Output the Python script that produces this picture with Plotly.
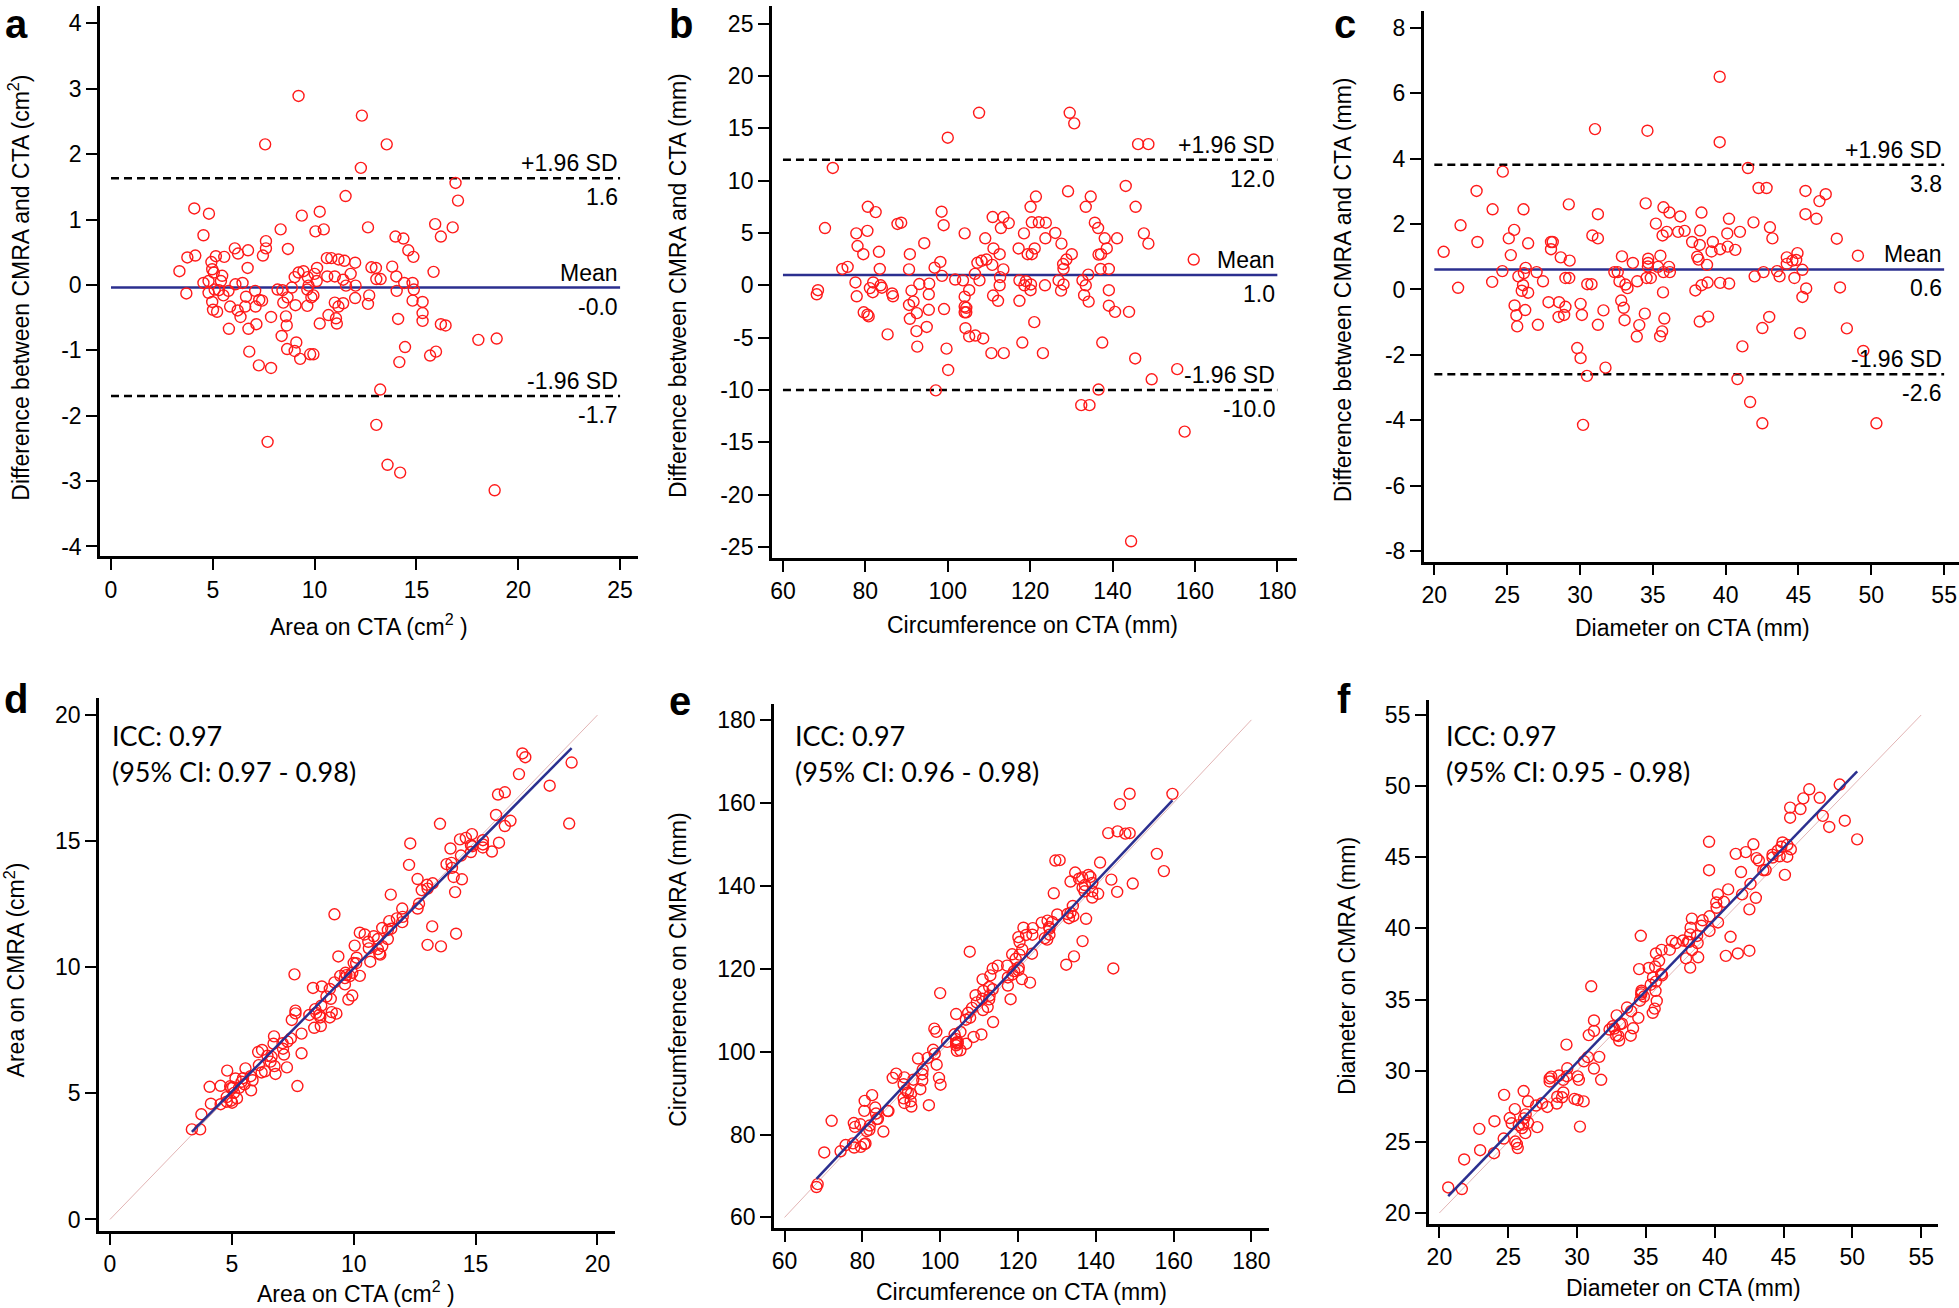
import numpy as np
import plotly.graph_objects as go

W, H = 1959, 1308

# ---------------- data ----------------
# Panel a / d : area (cm^2)
a_cta = [9.21,12.32,7.57,13.54,12.27,16.92,17.04,11.52,4.09,4.81,9.37,10.25,10.04,10.45,8.33,4.54,7.61,7.61,7.46,8.69,
         12.62,15.92,16.78,16.20,13.97,14.36,14.60,14.85,15.84,13.81,14.01,14.40,14.81,14.87,14.03,14.81,15.30,15.30,15.30,16.20,
         16.43,14.10,14.44,15.96,15.67,14.16,18.04,18.94,13.22,13.03,13.58,14.20,18.84,7.69,7.86,7.26,6.79,9.29,9.02,9.10,
         9.78,9.94,8.65,8.38,8.63,8.59,7.86,6.75,7.14,5.79,6.36,6.22,5.85,6.59,7.10,6.63,7.08,7.28,7.42,5.01,
         5.21,4.97,4.79,3.70,3.36,3.75,4.14,4.93,5.15,5.56,6.08,6.24,6.73,6.71,4.97,5.05,5.46,4.54,4.79,5.40,
         5.09,5.30,5.52,5.77,6.11,6.46,8.18,8.42,8.46,8.67,9.06,8.88,9.02,9.21,9.45,9.66,9.70,9.64,9.64,9.84,
         9.94,10.10,10.12,10.00,10.62,10.60,10.82,11.17,11.46,11.99,10.99,11.40,11.77,11.54,12.01,11.99,11.40,10.99,11.17,10.68,
         11.05,11.09,10.25,12.79,13.01,13.03,13.24,12.68,12.62]
a_diff = [2.89,2.59,2.15,2.15,1.79,1.56,1.29,1.36,1.17,1.09,1.06,1.12,0.82,0.85,0.85,0.76,0.67,0.56,0.45,0.55,
          0.88,0.93,0.88,0.74,0.74,0.71,0.53,0.43,0.20,0.28,0.13,0.03,0.03,-0.07,-0.09,-0.24,-0.26,-0.43,-0.55,-0.60,
          -0.62,-0.52,-0.95,-1.02,-1.08,-1.18,-0.84,-0.82,-1.60,-2.14,-2.75,-2.87,-3.14,-2.40,-1.27,-1.23,-1.02,-1.13,-1.01,-0.88,
          -1.06,-1.06,-0.98,-0.78,-0.62,-0.48,-0.49,-0.67,-0.60,-0.67,-0.49,-0.39,-0.33,-0.33,-0.33,-0.18,-0.09,-0.23,-0.24,-0.38,
          -0.41,-0.26,-0.12,-0.13,0.21,0.42,0.45,0.35,0.44,0.43,0.56,0.48,0.53,0.26,0.24,0.19,0.14,0.03,0.06,0.06,
          -0.07,-0.08,-0.16,-0.09,0.01,0.03,-0.07,-0.08,-0.27,-0.19,-0.31,-0.04,0.12,0.19,0.21,0.12,-0.01,-0.07,-0.32,-0.19,
          -0.16,0.06,0.26,0.17,0.13,0.41,0.41,0.39,0.37,0.34,0.13,0.08,0.17,-0.01,-0.01,-0.20,-0.28,-0.27,-0.33,-0.46,
          -0.51,-0.59,-0.59,0.27,0.26,0.09,0.09,-0.16,-0.29]

# Panel b / e : circumference (mm)
b_cta = [107.6,129.6,130.7,100.0,146.2,148.7,72.1,143.2,129.2,134.7,121.4,145.6,133.5,120.1,80.6,82.5,98.5,110.9,113.5,112.9,
         114.8,99.0,87.8,88.7,70.2,77.8,80.5,104.1,109.1,120.4,122.1,123.8,126.1,123.7,127.6,135.7,136.5,138.1,141.1,147.6,
         148.7,138.6,136.6,137.2,130.1,128.8,128.0,128.1,134.1,137.1,139.1,159.7,121.1,120.4,119.4,117.2,118.5,111.1,112.6,109.4,
         108.2,107.2,110.8,113.5,94.3,83.3,79.5,78.1,98.2,96.8,90.8,90.6,83.5,74.4,75.7,77.6,81.9,81.1,83.7,84.0,
         81.8,68.5,68.2,86.5,86.7,77.9,93.1,95.5,91.2,95.4,98.6,101.8,103.7,106.6,107.7,105.2,104.1,112.6,112.7,117.4,
         119.0,118.6,120.2,120.1,123.6,126.9,128.1,127.5,132.7,133.5,133.1,134.2,139.1,139.1,140.6,144.0,90.6,91.7,90.8,92.5,
         79.6,80.8,80.5,95.4,99.1,104.1,104.5,104.1,104.5,111.0,112.2,117.4,121.0,94.9,92.4,92.6,104.3,105.2,106.7,108.6,
         85.4,118.1,137.5,99.7,110.6,113.6,123.1,100.1,145.5,149.5,155.7,97.1,136.6,132.4,134.4,157.5,144.5]
b_diff = [16.48,16.48,15.47,14.10,13.48,13.48,11.21,9.49,8.98,8.48,8.48,7.50,7.50,7.50,7.50,6.99,7.03,6.52,6.52,5.47,
          5.94,5.74,5.86,5.98,5.47,4.96,5.20,4.96,4.49,6.02,6.02,5.98,5.00,4.49,3.98,5.98,5.47,4.49,4.49,4.96,
          3.98,3.52,2.93,2.97,2.97,2.46,2.03,1.56,1.02,1.56,1.56,2.46,3.52,2.97,2.97,3.52,4.96,3.52,2.97,2.46,
          2.34,2.15,1.95,1.52,4.02,3.20,2.97,3.75,2.23,1.68,2.97,1.52,1.56,1.56,1.76,0.27,0.27,-0.27,0.00,-0.23,
          -0.66,-0.47,-0.86,-0.78,-1.05,-1.05,0.12,0.16,-0.51,-0.86,0.90,0.55,0.47,1.09,0.47,-0.47,-1.09,0.00,0.78,0.47,
          0.39,0.00,0.08,-0.47,0.00,0.47,0.08,-0.51,0.47,0.00,-0.94,-1.56,-0.47,-1.95,-2.54,-2.54,-1.88,-1.56,-3.20,-2.66,
          -2.58,-2.97,-2.81,-2.34,-2.27,-2.03,-2.15,-2.58,-2.58,-0.98,-1.48,-1.48,-3.52,-3.98,-4.38,-5.86,-4.10,-4.88,-4.80,-5.08,
          -4.69,-5.47,-5.47,-6.05,-6.48,-6.48,-6.48,-8.09,-6.99,-8.98,-8.01,-10.04,-9.96,-11.45,-11.45,-13.98,-24.45]

# Panel c / f : diameter (mm)
c_cta = [39.59,31.03,34.63,39.59,24.70,41.53,22.90,42.26,42.81,45.48,46.87,46.44,24.00,26.12,29.23,34.51,31.23,35.73,36.14,38.34,
         45.48,46.23,40.23,41.91,43.04,21.80,35.21,36.89,36.74,37.18,35.96,35.67,38.25,40.11,40.98,43.21,47.63,25.48,25.11,22.96,
         26.44,28.01,28.13,28.01,30.85,31.23,20.64,25.25,28.68,29.29,32.88,33.63,34.68,34.68,35.52,37.70,38.22,39.12,39.03,39.62,
         40.14,40.66,38.05,38.14,38.72,44.93,44.20,44.58,44.84,44.20,49.08,24.67,23.97,21.63,26.27,26.15,25.77,27.02,27.46,26.09,
         26.00,26.44,29.00,29.26,30.50,30.79,32.36,32.59,32.71,33.12,33.26,33.93,34.57,34.86,34.66,35.35,35.73,36.17,36.11,37.92,
         38.35,38.76,39.62,40.24,35.70,41.99,42.60,43.53,43.70,44.72,45.27,45.53,45.27,47.85,25.51,25.63,25.69,26.24,27.11,27.84,
         28.56,28.53,28.91,29.00,30.04,30.13,31.61,31.23,32.83,33.00,33.06,34.45,34.07,33.90,35.50,35.64,35.79,38.22,38.80,42.52,
         42.99,45.10,48.32,29.81,30.04,31.75,30.48,41.15,49.45,40.81,41.68,30.21,42.52,50.35]
c_diff = [6.50,4.90,4.85,4.50,3.60,3.71,3.01,3.10,3.10,3.01,2.91,2.70,2.45,2.45,2.60,2.63,2.30,2.51,2.35,2.35,
          2.30,2.16,2.16,2.05,1.90,1.96,2.01,2.23,1.76,1.79,1.76,1.65,1.80,1.71,1.76,1.56,1.55,1.82,1.56,1.45,
          1.41,1.45,1.45,1.23,1.65,1.56,1.15,1.05,0.98,0.88,1.01,0.81,0.94,0.81,1.03,1.45,1.36,1.45,1.16,1.23,
          1.31,1.21,1.00,0.91,0.75,1.11,0.98,0.88,0.90,0.78,1.03,0.56,0.23,0.05,0.66,0.50,0.40,0.53,0.25,0.13,
          -0.04,-0.10,0.35,0.35,0.16,0.16,0.53,0.53,0.25,0.15,0.04,0.25,0.35,0.35,0.70,0.69,0.53,0.53,0.69,-0.03,
          0.13,0.21,0.20,0.18,-0.09,0.40,0.53,0.56,0.40,0.35,0.60,0.03,-0.23,0.06,-0.49,-0.79,-1.13,-0.63,-1.08,-0.39,
          -0.39,-0.84,-0.78,-0.53,-0.44,-0.78,-0.64,-1.08,-0.34,-0.56,-0.94,-0.74,-1.09,-1.44,-1.43,-1.28,-0.89,-0.98,-0.83,-1.18,
          -0.84,-1.34,-1.19,-1.79,-2.10,-2.39,-2.64,-1.74,-1.88,-2.74,-3.44,-4.14,-4.09,-4.09]

# Bland-Altman reference lines (mean, +1.96 SD, -1.96 SD) and their printed labels
a_lines = [-0.04, 1.63, -1.70]
b_lines = [0.98, 11.98, -9.99]
c_lines = [0.61, 3.81, -2.59]
a_labels = ["-0.0", "1.6", "-1.7"]
b_labels = ["1.0", "12.0", "-10.0"]
c_labels = ["0.6", "3.8", "-2.6"]

# tick values
a_xticks = [0, 5, 10, 15, 20, 25];     a_yticks = [-4, -3, -2, -1, 0, 1, 2, 3, 4]
b_xticks = [60, 80, 100, 120, 140, 160, 180]; b_yticks = [-25, -20, -15, -10, -5, 0, 5, 10, 15, 20, 25]
c_xticks = [20, 25, 30, 35, 40, 45, 50, 55];  c_yticks = [-8, -6, -4, -2, 0, 2, 4, 6, 8]
d_ticks = [0, 5, 10, 15, 20]
e_ticks = [60, 80, 100, 120, 140, 160, 180]
f_ticks = [20, 25, 30, 35, 40, 45, 50, 55]

icc_text = [("ICC: 0.97", "(95% CI: 0.97 - 0.98)"),
            ("ICC: 0.97", "(95% CI: 0.96 - 0.98)"),
            ("ICC: 0.97", "(95% CI: 0.95 - 0.98)")]

# ---------------- styling ----------------
RED = "#FF1A1A"
NAVY = "#2B2F8F"
PINK = "#E2B4B4"
FONT = "Liberation Sans"
TICKFONT = dict(family=FONT, size=23, color="black")

def px_x(p):
    return p / W

def px_y(p):
    return 1 - p / H

# pixel boxes of each plot area: (left, right, top, bottom)
boxes = {
    1: (100, 638, 6.4, 556.3),
    2: (771.8, 1296.7, 6.4, 557.8),
    3: (1423.7, 1959, 11.3, 561.7),
    4: (99, 615, 698.2, 1230.8),
    5: (773.9, 1269.3, 704.1, 1227.8),
    6: (1428.8, 1937.7, 700.2, 1223.9),
}
ranges = {
    1: ([-0.54, 25.88], [-4.15, 4.26]),
    2: ([57.29, 184.7], [-26.03, 26.64]),
    3: ([19.27, 56.02], [-8.32, 8.50]),
    4: ([-0.45, 20.72], [-0.45, 20.67]),
    5: ([57.26, 184.6], [57.5, 183.8]),
    6: ([19.23, 56.2], [19.23, 56.04]),
}
ticks = {
    1: (a_xticks, a_yticks), 2: (b_xticks, b_yticks), 3: (c_xticks, c_yticks),
    4: (d_ticks, d_ticks), 5: (e_ticks, e_ticks), 6: (f_ticks, f_ticks),
}

fig = go.Figure()
layout = dict(
    width=W, height=H, margin=dict(l=0, r=0, t=0, b=0),
    paper_bgcolor="white", plot_bgcolor="white", showlegend=False,
    font=dict(family=FONT, color="black"),
)
for i in range(1, 7):
    l, r, t, b = boxes[i]
    xr, yr = ranges[i]
    xt, yt = ticks[i]
    sfx = "" if i == 1 else str(i)
    common = dict(showline=True, linewidth=2.5, linecolor="black", mirror=False,
                  ticks="outside", ticklen=11, tickwidth=1.5, tickcolor="black",
                  showgrid=False, zeroline=False, tickfont=TICKFONT, automargin=False)
    layout["xaxis" + sfx] = dict(domain=[px_x(l), px_x(r)], range=xr, tickvals=xt,
                                 ticktext=[str(v) for v in xt], anchor="y" + sfx, **common)
    layout["yaxis" + sfx] = dict(domain=[px_y(b), px_y(t)], range=yr, tickvals=yt,
                                 ticktext=[str(v) for v in yt], anchor="x" + sfx, **common)
fig.update_layout(**layout)

marker = dict(symbol="circle-open", size=11, color=RED, line=dict(width=1.4, color=RED))

ba_sets = [(a_cta, a_diff, a_lines, a_labels, a_xticks, 1),
           (b_cta, b_diff, b_lines, b_labels, b_xticks, 2),
           (c_cta, c_diff, c_lines, c_labels, c_xticks, 3)]
annotations = []
for cta, diff, lines, labels, xt, i in ba_sets:
    xa = "x" if i == 1 else "x" + str(i)
    ya = "y" if i == 1 else "y" + str(i)
    xs = [xt[0], xt[-1]]
    fig.add_trace(go.Scatter(x=xs, y=[lines[0]] * 2, mode="lines", xaxis=xa, yaxis=ya,
                             line=dict(color=NAVY, width=2.5), hoverinfo="skip"))
    for v in lines[1:]:
        fig.add_trace(go.Scatter(x=xs, y=[v] * 2, mode="lines", xaxis=xa, yaxis=ya,
                                 line=dict(color="black", width=2.5, dash="8px,5px"), hoverinfo="skip"))
    fig.add_trace(go.Scatter(x=cta, y=diff, mode="markers", xaxis=xa, yaxis=ya, marker=marker))
    tops = ["Mean", "+1.96 SD", "-1.96 SD"]
    for v, top, lab in zip(lines, tops, labels):
        annotations.append(dict(x=xt[-1], y=v, xref=xa, yref=ya, text=top, showarrow=False,
                                xanchor="right", yanchor="bottom", yshift=0,
                                font=dict(family=FONT, size=23, color="black")))
        annotations.append(dict(x=xt[-1], y=v, xref=xa, yref=ya, text=lab, showarrow=False,
                                xanchor="right", yanchor="top", yshift=-4,
                                font=dict(family=FONT, size=23, color="black")))

corr_sets = [(a_cta, a_diff, d_ticks, 4), (b_cta, b_diff, e_ticks, 5), (c_cta, c_diff, f_ticks, 6)]
for cta, diff, tk, i in corr_sets:
    xa, ya = "x" + str(i), "y" + str(i)
    cta_arr = np.array(cta)
    cmra = cta_arr + np.array(diff)
    fig.add_trace(go.Scatter(x=[tk[0], tk[-1]], y=[tk[0], tk[-1]], mode="lines", xaxis=xa, yaxis=ya,
                             line=dict(color=PINK, width=1), hoverinfo="skip"))
    fig.add_trace(go.Scatter(x=cta, y=cmra, mode="markers", xaxis=xa, yaxis=ya, marker=marker))
    slope, icpt = np.polyfit(cta_arr, cmra, 1)
    xs = np.array([cta_arr.min(), cta_arr.max()])
    fig.add_trace(go.Scatter(x=xs, y=slope * xs + icpt, mode="lines", xaxis=xa, yaxis=ya,
                             line=dict(color=NAVY, width=2.5), hoverinfo="skip"))

# ICC texts
icc_pos = [(110, 735, 771.5), (793, 735, 771.5), (1444, 735, 771.5)]
for (l1, l2), (xp, y1, y2) in zip(icc_text, icc_pos):
    for txt, yp in ((l1, y1), (l2, y2)):
        annotations.append(dict(x=px_x(xp), y=px_y(yp), xref="paper", yref="paper", text=txt,
                                showarrow=False, xanchor="left", yanchor="middle",
                                font=dict(family="Lato", size=27, color="black")))

# axis titles
xtitles = [("Area on CTA (cm<sup>2</sup> )", 369, 624.5),
           ("Circumference on CTA (mm)", 1032.7, 624.5),
           ("Diameter on CTA (mm)", 1692.4, 628),
           ("Area on CTA (cm<sup>2</sup> )", 356, 1292),
           ("Circumference on CTA (mm)", 1021.6, 1292),
           ("Diameter on CTA (mm)", 1683.3, 1288)]
ytitles = [("Difference between CMRA and CTA (cm<sup>2</sup>)", 19, 287.7),
           ("Difference between CMRA and CTA (mm)", 677.4, 285.7),
           ("Difference between CMRA and CTA (mm)", 1342.6, 289.7),
           ("Area on CMRA (cm<sup>2</sup>)", 15, 970.4),
           ("Circumference on CMRA (mm)", 678.4, 969.4),
           ("Diameter on CMRA (mm)", 1346.6, 966.5)]
for txt, xp, yp in xtitles:
    annotations.append(dict(x=px_x(xp), y=px_y(yp), xref="paper", yref="paper", text=txt,
                            showarrow=False, xanchor="center", yanchor="middle",
                            font=dict(family=FONT, size=23, color="black")))
for txt, xp, yp in ytitles:
    annotations.append(dict(x=px_x(xp), y=px_y(yp), xref="paper", yref="paper", text=txt,
                            showarrow=False, xanchor="center", yanchor="middle", textangle=-90,
                            font=dict(family=FONT, size=23, color="black")))

# panel letters (top row anchored to the top edge so the text box stays inside)
letters_top = [("a", 2.5), ("b", 667), ("c", 1332)]
for txt, xp in letters_top:
    annotations.append(dict(x=px_x(xp), y=1, xref="paper", yref="paper", text="<b>%s</b>" % txt,
                            showarrow=False, xanchor="left", yanchor="top",
                            font=dict(family=FONT, size=40, color="black")))
letters_bot = [("d", 1.5, 699), ("e", 667, 701), ("f", 1335, 699)]
for txt, xp, yp in letters_bot:
    annotations.append(dict(x=px_x(xp), y=px_y(yp), xref="paper", yref="paper", text="<b>%s</b>" % txt,
                            showarrow=False, xanchor="left", yanchor="middle",
                            font=dict(family=FONT, size=40, color="black")))

fig.update_layout(annotations=annotations)
fig.write_html("out.html", config={"displayModeBar": False},
               post_script="document.body.style.margin='0px';document.body.style.overflow='hidden';")
